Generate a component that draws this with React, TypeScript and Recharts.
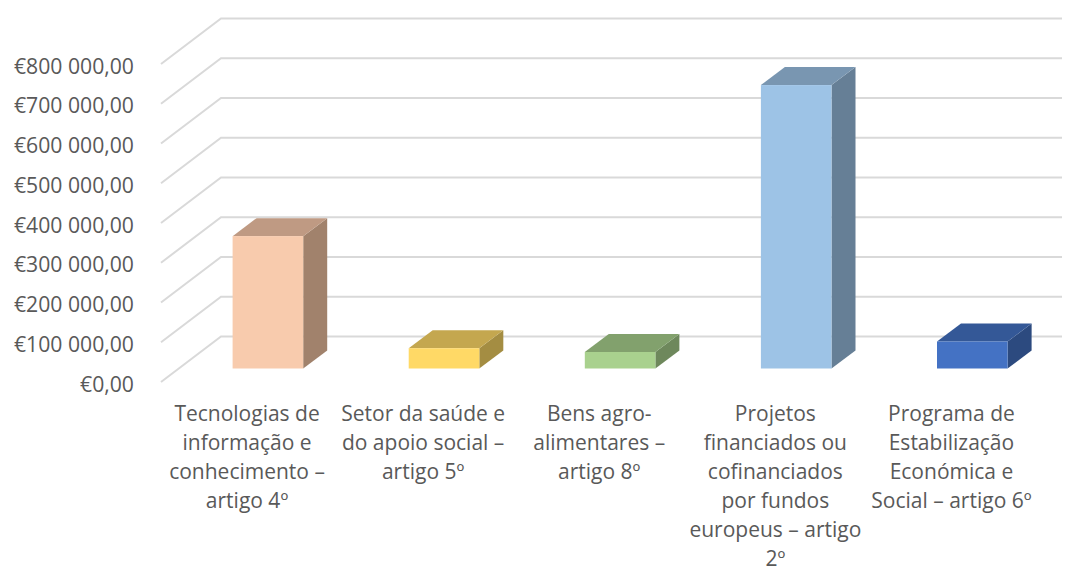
import React from "react";
import { BarChart, Bar, XAxis, YAxis, CartesianGrid } from "recharts";

const categories = [
  "Tecnologias de\ninformação e\nconhecimento –\nartigo 4º",
  "Setor da saúde e\ndo apoio social –\nartigo 5º",
  "Bens agro-\nalimentares –\nartigo 8º",
  "Projetos\nfinanciados ou\ncofinanciados\npor fundos\neuropeus – artigo\n2º",
  "Programa de\nEstabilização\nEconómica e\nSocial – artigo 6º",
];
const values = [333000, 51000, 41500, 713000, 68000];
const yTicks = [0, 100000, 200000, 300000, 400000, 500000, 600000, 700000, 800000];
const frontColors = ["#F8CBAD", "#FFD966", "#A9D18E", "#9DC3E6", "#4472C4"];
const topColors = ["#BF9A83", "#C4A74F", "#82A16D", "#7996B1", "#345897"];
const sideColors = ["#A1826C", "#A48D42", "#6E885C", "#667F96", "#2C4A7F"];

const data = categories.map((name, i) => ({ name, value: values[i] }));

const FONT = "'Open Sans', sans-serif";
const TEXT = "#595959";
const GRID = "#D9D9D9";
const DX = 24;
const DY = 18;
const FLOOR_SHIFT = 13.5;

const formatEuro = (v: number) => {
  if (v === 0) return "€0,00";
  return `€${Math.round(v / 1000)} 000,00`;
};

const Box = (props: any) => {
  const { x, y, width, height, index } = props;
  const left = x - 0.4;
  const t = y - FLOOR_SHIFT;
  const b = t + height;
  const r = left + width;
  return (
    <g>
      <polygon points={`${r},${t} ${r + DX},${t - DY} ${r + DX},${b - DY} ${r},${b}`} fill={sideColors[index]} />
      <polygon points={`${left},${t} ${left + DX},${t - DY} ${r + DX},${t - DY} ${r},${t}`} fill={topColors[index]} />
      <rect x={left} y={t} width={width} height={height} fill={frontColors[index]} />
    </g>
  );
};

const GridLine = (props: any) => {
  const { x1, x2, y1 } = props;
  return (
    <polyline
      points={`${x1 - 19},${y1} ${x1 + 41},${y1 - 45.5} ${x2 + 1.5},${y1 - 45.5}`}
      fill="none"
      stroke={GRID}
      strokeWidth={2}
    />
  );
};

const CategoryTick = (props: any) => {
  const { x, y, payload } = props;
  const lines = String(payload.value).split("\n");
  return (
    <text x={x - 21} y={y} textAnchor="middle" fill={TEXT} fontFamily={FONT} fontSize={21}>
      {lines.map((line: string, i: number) => (
        <tspan key={i} x={x - 21} dy={i === 0 ? 0 : 29}>
          {line}
        </tspan>
      ))}
    </text>
  );
};

const ValueTick = (props: any) => {
  const { x, y, payload, tickFormatter, index } = props;
  return (
    <text x={x} y={y + 9.5} textAnchor="end" fill={TEXT} fontFamily={FONT} fontSize={21.2}>
      {tickFormatter ? tickFormatter(payload.value, index) : payload.value}
    </text>
  );
};

export default function App() {
  return (
    <div style={{ position: "absolute", left: 0, top: 0, width: 1090, height: 567 }}>
      <BarChart
        width={1090}
        height={567}
        data={data}
        margin={{ top: 64, right: 29.5, bottom: 0, left: 0 }}
        barSize={70.6}
      >
        <CartesianGrid vertical={false} horizontal={GridLine as any} />
        <XAxis
          dataKey="name"
          interval={0}
          axisLine={false}
          tickLine={false}
          height={185}
          tick={(p: any) => <CategoryTick {...p} y={421} />}
        />
        <YAxis
          width={180}
          domain={[0, 800000]}
          ticks={yTicks}
          interval={0}
          axisLine={false}
          tickLine={false}
          tickSize={0}
          tickMargin={46}
          tickFormatter={formatEuro}
          tick={ValueTick as any}
        />
        <Bar dataKey="value" isAnimationActive={false} shape={Box as any} />
      </BarChart>
    </div>
  );
}
